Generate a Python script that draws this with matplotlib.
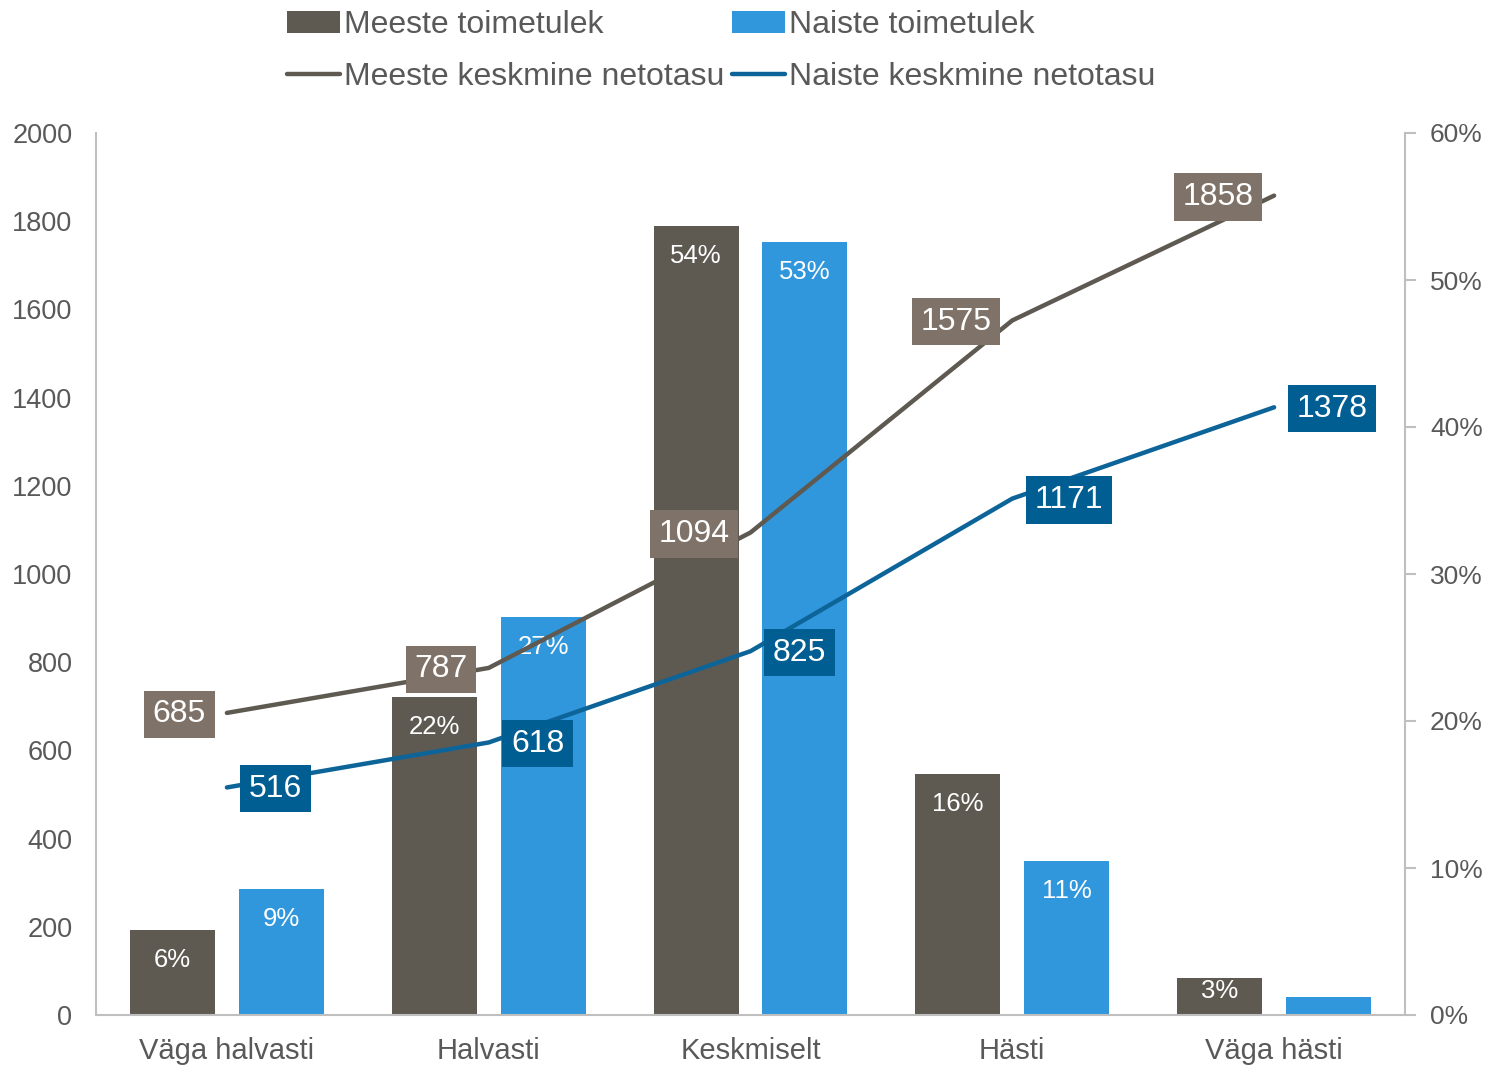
import matplotlib.pyplot as plt
import numpy as np

plt.rcParams['font.family'] = ['Liberation Sans', 'DejaVu Sans']

categories = ['Väga halvasti', 'Halvasti', 'Keskmiselt', 'Hästi', 'Väga hästi']
men_share = [5.8, 21.6, 53.7, 16.4, 2.5]
women_share = [8.6, 27.1, 52.6, 10.5, 1.2]
men_share_labels = ['6%', '22%', '54%', '16%', '3%']
women_share_labels = ['9%', '27%', '53%', '11%', '1%']
men_pay = [685, 787, 1094, 1575, 1858]
women_pay = [516, 618, 825, 1171, 1378]

MEN_BAR = '#5e5a52'
WOMEN_BAR = '#3197dc'
MEN_LINE = '#5e5a52'
WOMEN_LINE = '#0d6499'
MEN_BOX = '#7f7369'
WOMEN_BOX = '#005e93'
TXT = '#595959'

fig = plt.figure(figsize=(14.95, 10.68), dpi=100)
ax = fig.add_axes([96 / 1495, 1 - 1015 / 1068, 1309 / 1495, 882 / 1068])
ax2 = ax.twinx()
ax.set_zorder(ax2.get_zorder() + 1)
ax.patch.set_visible(False)

x = np.arange(len(categories))
w = 0.325
off = 0.208

# bars on the percent axis
mb = ax2.bar(x - off, men_share, w, color=MEN_BAR, label='Meeste toimetulek')
wb = ax2.bar(x + off, women_share, w, color=WOMEN_BAR, label='Naiste toimetulek')
for bars, labs in ((mb, men_share_labels), (wb, women_share_labels)):
    for rect, lab in zip(bars, labs):
        h = rect.get_height()
        if h > 5:
            dy = -30
        elif h > 2:
            dy = -13
        else:
            dy = 7
        t = ax2.annotate(lab, (rect.get_x() + rect.get_width() / 2, h),
                         xytext=(0, dy * 0.72), textcoords='offset points',
                         ha='center', va='center', color='white', fontsize=18.5)
        if h < 2:
            t.set_clip_path(rect)

# lines on the money axis
ml, = ax.plot(x, men_pay, color=MEN_LINE, lw=3.2, solid_capstyle='round',
              label='Meeste keskmine netotasu')
wl, = ax.plot(x, women_pay, color=WOMEN_LINE, lw=3.2, solid_capstyle='round',
              label='Naiste keskmine netotasu')
for xi, v in zip(x, men_pay):
    ax.annotate(str(v), (xi, v), xytext=(-15, -1), textcoords='offset points',
                ha='right', va='center', color='white', fontsize=23,
                bbox=dict(boxstyle='square,pad=0.27', fc=MEN_BOX, ec='none'))
for xi, v in zip(x, women_pay):
    ax.annotate(str(v), (xi, v), xytext=(16, -1), textcoords='offset points',
                ha='left', va='center', color='white', fontsize=23,
                bbox=dict(boxstyle='square,pad=0.27', fc=WOMEN_BOX, ec='none'))

ax.set_xlim(-0.5, 4.5)
ax.set_ylim(0, 2000)
ax2.set_ylim(0, 60)
ax.set_yticks(range(0, 2001, 200))
ax2.set_yticks(range(0, 61, 10))
ax2.set_yticklabels([f'{v}%' for v in range(0, 61, 10)])
ax.set_xticks(x)
ax.set_xticklabels(categories)

ax.tick_params(axis='y', length=0, pad=17, labelsize=19.5, labelcolor=TXT)
ax.tick_params(axis='x', length=0, pad=16, labelsize=21, labelcolor=TXT)
ax2.tick_params(axis='y', length=8, width=1.5, color='#bfbfbf', pad=10,
                labelsize=19, labelcolor=TXT)

for a in (ax, ax2):
    a.spines['top'].set_visible(False)
    for s in ('left', 'right', 'bottom'):
        a.spines[s].set_color('#bfbfbf')
        a.spines[s].set_linewidth(1.5)
ax.spines['right'].set_visible(False)
ax2.spines['left'].set_visible(False)
ax2.spines['bottom'].set_visible(False)

fig.legend(handles=[mb, ml, wb, wl], loc='upper left',
           bbox_to_anchor=(287 / 1495, 1 - 10 / 1068), ncol=2, frameon=False,
           fontsize=23, labelcolor=TXT, handlelength=1.66, handletextpad=0.12,
           columnspacing=0.25, labelspacing=0.69, borderpad=0,
           borderaxespad=0)

fig.savefig('out.png', dpi=100)
